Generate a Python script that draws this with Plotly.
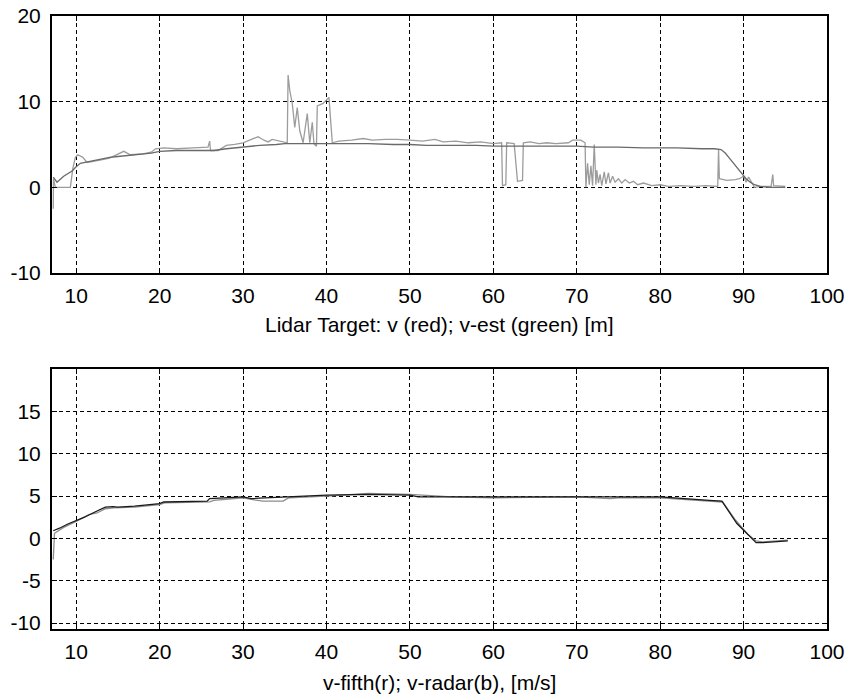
import plotly.graph_objects as go

# ---- Upper panel: lidar target range rate, raw (v) and estimated (v-est) ----
v_x = [7.25, 7.28, 7.5, 9.3, 9.6, 9.9, 10.2, 10.8, 11.3, 12.0, 13.0, 14.0, 15.0, 15.7, 16.5,
       18.0, 19.0, 19.5, 20.5, 22.0, 24.0, 25.8, 26.0, 26.1, 27.0, 28.0, 29.0, 30.0, 31.0,
       31.8, 32.5, 33.0, 33.5, 34.5, 35.3, 35.4, 35.6, 35.9, 36.2, 36.5, 36.8, 37.2, 37.7,
       38.0, 38.3, 38.5, 38.8, 38.9, 39.6, 40.3, 40.7, 41.5, 43.0, 44.4, 45.5, 47.0, 48.5,
       50.0, 51.5, 53.0, 54.0, 55.5, 57.0, 58.5, 60.0, 61.0, 61.1, 61.5, 61.6, 62.5, 62.9,
       63.5, 63.6, 64.4, 65.5, 66.4, 67.5, 69.0, 69.5, 70.5, 71.0, 71.1, 71.3, 71.5, 71.7,
       71.9, 72.1, 72.3, 72.4, 72.6, 72.8, 73.0, 73.3, 73.5, 73.8, 74.0, 74.3, 74.6, 75.0,
       75.4, 75.8, 76.3, 76.8, 77.3, 78.0, 79.0, 80.0, 81.0, 82.5, 84.0, 85.5, 86.9, 87.0,
       87.1, 88.0, 89.0, 89.5, 90.0, 90.3, 90.6, 91.0, 91.3, 92.0, 93.3, 93.5, 93.6, 95.0]
v_y = [-2.5, 1.0, 0.0, 0.0, 2.2, 3.5, 3.8, 3.5, 2.9, 3.0, 3.2, 3.4, 3.9, 4.2, 3.8,
       3.9, 4.1, 4.5, 4.6, 4.5, 4.6, 4.7, 5.4, 4.3, 4.3, 4.9, 5.0, 5.2, 5.6,
       5.9, 5.5, 5.3, 5.6, 5.4, 5.2, 13.1, 11.3, 9.8, 7.0, 9.3, 6.6, 5.2, 8.6,
       5.2, 7.6, 5.1, 4.8, 9.5, 9.8, 10.5, 5.2, 5.4, 5.5, 5.7, 5.5, 5.6, 5.6,
       5.5, 5.4, 5.6, 5.3, 5.4, 5.2, 5.3, 5.1, 5.2, 0.2, 0.3, 5.2, 5.1, 0.7,
       0.8, 5.2, 5.3, 5.1, 5.2, 5.1, 5.2, 5.5, 5.5, 5.2, 0.0, 2.8, 0.3, 2.5,
       0.2, 5.0, 0.3, 2.0, 0.5, 1.5, 0.2, 1.8, 0.4, 1.7, 0.5, 1.3, 0.6, 1.0,
       0.5, 0.9, 0.5, 0.7, 0.3, 0.5, 0.2, 0.3, 0.1, 0.2, 0.1, 0.2, 0.1, 4.4,
       1.0, 0.8, 0.9, 1.0, 1.3, 0.6, 1.2, 0.5, 0.0, 0.1, 0.1, 1.5, 0.2, 0.1]

vest_x = [7.25, 7.7, 8.5, 9.5, 10.0, 10.5, 11.5, 12.5, 14.0, 15.0, 17.0, 19.0, 20.0, 22.0,
          25.0, 26.5, 28.0, 30.0, 32.0, 34.0, 35.0, 36.0, 38.0, 40.0, 42.0, 45.0, 48.0, 50.0,
          52.0, 55.0, 58.0, 60.0, 62.0, 65.0, 68.0, 70.0, 72.0, 75.0, 78.0, 80.0, 82.0, 85.0,
          86.5, 87.3, 87.8, 88.3, 88.8, 89.3, 89.8, 90.3, 90.8, 91.3, 92.0, 93.0, 94.0, 95.0]
vest_y = [1.2, 0.6, 1.3, 1.9, 2.4, 2.8, 3.0, 3.2, 3.5, 3.6, 3.8, 4.0, 4.2, 4.3,
          4.3, 4.3, 4.5, 4.7, 4.9, 5.0, 5.1, 5.1, 5.1, 5.1, 5.1, 5.1, 5.0, 5.0,
          4.9, 4.9, 4.9, 4.8, 4.8, 4.8, 4.8, 4.8, 4.7, 4.7, 4.6, 4.6, 4.6, 4.5,
          4.5, 4.4, 4.0, 3.4, 2.8, 2.1, 1.5, 1.0, 0.6, 0.3, 0.1, 0.0, 0.0, 0.0]

# ---- Lower panel: fifth-wheel speed vs radar speed ----
fifth_x = [7.25, 8.0, 9.0, 10.0, 11.0, 12.0, 13.2, 13.5, 14.4, 15.0, 17.0, 19.0, 20.0, 20.5,
           25.7, 26.0, 30.0, 31.0, 35.0, 40.0, 45.0, 50.0, 51.0, 60.0, 70.0, 80.0, 85.9,
           87.4, 89.2, 90.7, 91.5, 92.3, 95.3]
fifth_y = [0.9, 1.2, 1.7, 2.1, 2.5, 3.0, 3.5, 3.7, 3.75, 3.7, 3.8, 4.0, 4.1, 4.3,
           4.4, 4.7, 4.9, 4.7, 4.9, 5.1, 5.2, 5.1, 4.9, 4.9, 4.9, 4.9, 4.5,
           4.4, 1.75, 0.2, -0.5, -0.5, -0.3]

radar_x = [7.25, 7.4, 8.5, 10.0, 11.5, 12.5, 13.5, 14.5, 17.0, 20.0, 20.6, 26.0, 26.5, 30.0,
           31.0, 32.4, 34.8, 35.5, 40.0, 45.0, 50.0, 55.0, 60.0, 70.0, 74.0, 75.0, 80.0,
           86.0, 87.5, 89.0, 90.5, 91.5, 92.3, 95.3]
radar_y = [-2.5, 0.6, 1.3, 2.0, 2.8, 3.0, 3.5, 3.6, 3.7, 4.0, 4.2, 4.3, 4.5, 4.8,
           4.6, 4.4, 4.4, 4.8, 5.0, 5.3, 5.2, 4.9, 4.8, 4.9, 4.7, 4.8, 4.8,
           4.4, 4.3, 2.2, 0.5, -0.3, -0.4, -0.2]

x_ticks = [10, 20, 30, 40, 50, 60, 70, 80, 90, 100]
top_y_ticks = [-10, 0, 10, 20]
bottom_y_ticks = [-10, -5, 0, 5, 10, 15]

top_label = "Lidar Target: v (red); v-est (green) [m]"
bottom_label = "v-fifth(r); v-radar(b), [m/s]"

FONT = "Liberation Sans, Arial, sans-serif"
FONT_SIZE = 21


def tick_text(values):
    # plain hyphen-minus for negative numbers
    return [str(v) for v in values]


fig = go.Figure()
fig.add_trace(go.Scatter(x=v_x, y=v_y, mode="lines", xaxis="x", yaxis="y",
                         line=dict(color="#9c9c9c", width=1.3), name="v"))
fig.add_trace(go.Scatter(x=vest_x, y=vest_y, mode="lines", xaxis="x", yaxis="y",
                         line=dict(color="#6a6a6a", width=1.3), name="v-est"))
fig.add_trace(go.Scatter(x=radar_x, y=radar_y, mode="lines", xaxis="x2", yaxis="y2",
                         line=dict(color="#8c8c8c", width=1.3), name="v-radar"))
fig.add_trace(go.Scatter(x=fifth_x, y=fifth_y, mode="lines", xaxis="x2", yaxis="y2",
                         line=dict(color="#1a1a1a", width=1.3), name="v-fifth"))

axis_common = dict(
    showline=True, linecolor="black", linewidth=2, mirror="ticks",
    ticks="inside", ticklen=5, tickwidth=1, tickcolor="black",
    showgrid=True, gridcolor="black", gridwidth=1, griddash="4px,3px",
    zeroline=False, automargin=False,
    tickfont=dict(family=FONT, size=FONT_SIZE, color="black"),
)

fig.update_layout(
    width=848, height=698,
    margin=dict(l=52, r=21, t=16, b=69),
    paper_bgcolor="white", plot_bgcolor="white",
    showlegend=False,
    xaxis=dict(domain=[0, 1], anchor="y", range=[7.1, 100], tickvals=x_ticks,
               ticktext=tick_text(x_ticks), ticklabelstandoff=3, **axis_common),
    yaxis=dict(domain=[0.5808, 1], anchor="x", range=[-10, 20], tickvals=top_y_ticks,
               ticktext=tick_text(top_y_ticks), ticklabelstandoff=5, **axis_common),
    xaxis2=dict(domain=[0, 1], anchor="y2", range=[7.1, 100], tickvals=x_ticks,
                ticktext=tick_text(x_ticks), ticklabelstandoff=3, **axis_common),
    yaxis2=dict(domain=[0, 0.4241], anchor="x2", range=[-10.7, 20], tickvals=bottom_y_ticks,
                ticktext=tick_text(bottom_y_ticks), ticklabelstandoff=5, **axis_common),
    annotations=[
        dict(text=top_label, xref="paper", yref="paper", x=0.5, y=0.496,
             xanchor="center", yanchor="middle", showarrow=False,
             font=dict(family=FONT, size=FONT_SIZE, color="black")),
        dict(text=bottom_label, xref="paper", yref="paper", x=0.5, y=-0.088,
             xanchor="center", yanchor="middle", showarrow=False,
             font=dict(family=FONT, size=FONT_SIZE, color="black")),
    ],
)

fig.write_html("out.html")
